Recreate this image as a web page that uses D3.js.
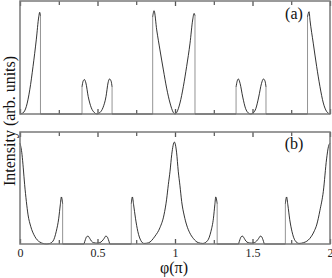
<!DOCTYPE html>
<html>
<head>
<meta charset="utf-8">
<script src="https://cdn.jsdelivr.net/npm/d3@7"></script>
<style>
  body { margin: 0; background: #fff; }
  text { font-family: "Liberation Serif", "Times New Roman", serif; }
</style>
</head>
<body>
<div id="chart"></div>
<script>
/* DATA (phi in units of pi, intensity in arb. units) */
// panel (a): pieces of the curve, joined by vertical drops
const segA = [
  [[0,0],[0.019,0.009],[0.041,0.067],[0.063,0.214],[0.084,0.42],[0.105,0.656],[0.121,0.86],[0.127,0.9],[0.132,0.87]],
  [[0.132,0],[0.40,0]],
  [[0.40,0.24],[0.407,0.29],[0.415,0.305],[0.425,0.275],[0.44,0.155],[0.46,0.055],[0.48,0.012],[0.497,0],
   [0.515,0.012],[0.535,0.055],[0.555,0.155],[0.568,0.275],[0.577,0.31],[0.588,0.29],[0.594,0.24]],
  [[0.594,0],[0.856,0]],
  [[0.856,0.86],[0.865,0.914],[0.882,0.744],[0.903,0.567],[0.925,0.39],[0.946,0.229],[0.968,0.097],[0.989,0.014],[1.0,0],
   [1.011,0.014],[1.032,0.097],[1.054,0.244],[1.075,0.42],[1.097,0.627],[1.114,0.832],[1.123,0.89],[1.129,0.87]],
  [[1.129,0],[1.394,0]],
  [[1.394,0.24],[1.401,0.29],[1.409,0.31],[1.42,0.27],[1.437,0.15],[1.455,0.05],[1.472,0.01],[1.488,0],
   [1.505,0.01],[1.522,0.05],[1.54,0.15],[1.558,0.27],[1.57,0.31],[1.581,0.29],[1.587,0.24]],
  [[1.587,0],[1.855,0]],
  [[1.855,0.86],[1.865,0.905],[1.871,0.83],[1.892,0.627],[1.914,0.42],[1.935,0.244],[1.957,0.097],[1.978,0.023],[2.0,0]]
];

// panel (b)
const segB = [
  [[0,0.90],[0.013,0.80],[0.021,0.68],[0.03,0.53],[0.041,0.38],[0.052,0.26],[0.069,0.158],[0.095,0.069],[0.127,0.018],
   [0.17,0.0],[0.19,0.004],[0.213,0.026],[0.234,0.113],[0.25,0.23],[0.26,0.35],[0.267,0.42],[0.275,0.36]],
  [[0.275,0],[0.413,0]],
  [[0.413,0],[0.422,0.04],[0.43,0.065],[0.439,0.07],[0.45,0.05],[0.46,0.027],[0.475,0.012],[0.496,0.008],
   [0.515,0.012],[0.53,0.027],[0.543,0.05],[0.553,0.07],[0.562,0.065],[0.57,0.04],[0.579,0]],
  [[0.579,0],[0.718,0]],
  [[0.718,0.36],[0.725,0.42],[0.733,0.35],[0.745,0.23],[0.76,0.113],[0.78,0.03],[0.80,0.005],[0.828,0.01],
   [0.871,0.07],[0.903,0.146],[0.929,0.26],[0.946,0.40],[0.957,0.53],[0.968,0.65],[0.979,0.80],[0.996,0.91],
   [1.01,0.82],[1.021,0.65],[1.032,0.52],[1.043,0.38],[1.06,0.25],[1.075,0.17],[1.095,0.10],[1.118,0.05],
   [1.15,0.012],[1.18,0.005],[1.21,0.03],[1.232,0.113],[1.248,0.23],[1.257,0.35],[1.263,0.42],[1.272,0.36]],
  [[1.272,0],[1.41,0]],
  [[1.41,0],[1.419,0.04],[1.427,0.065],[1.436,0.07],[1.447,0.05],[1.457,0.027],[1.472,0.012],[1.493,0.008],
   [1.512,0.012],[1.527,0.027],[1.54,0.05],[1.55,0.07],[1.559,0.065],[1.567,0.04],[1.576,0]],
  [[1.576,0],[1.712,0]],
  [[1.712,0.36],[1.72,0.42],[1.728,0.35],[1.74,0.22],[1.755,0.11],[1.775,0.03],[1.80,0.005],[1.83,0.012],
   [1.87,0.05],[1.90,0.12],[1.914,0.17],[1.935,0.30],[1.957,0.47],[1.978,0.76],[1.99,0.87],[2.0,0.90]]
];

const majorTicks = [0, 0.5, 1, 1.5, 2];
const minorTicks = [0.25, 0.75, 1.25, 1.75];
const panelLabels = ["(a)", "(b)"];

/* LAYOUT */
const width = 332, height = 278;
const left = 20, right = 330;
const panels = [
  { top: 1, bottom: 114, segs: segA, label: panelLabels[0], labelY: 19 },
  { top: 132, bottom: 244, segs: segB, label: panelLabels[1], labelY: 149 }
];

const svg = d3.select("#chart")
  .append("svg")
  .attr("width", width)
  .attr("height", height)
  .style("background-color", "#ffffff");

const xScale = d3.scaleLinear()
  .domain([0, 2])
  .range([left, right]);

panels.forEach((p, i) => {
  const yScale = d3.scaleLinear()
    .domain([0, 1])
    .range([p.bottom, p.top]);

  const line = d3.line()
    .x(d => xScale(d[0]))
    .y(d => yScale(d[1]))
    .curve(d3.curveMonotoneX);

  // jumps between pieces (drawn lighter, like the original)
  const jumps = d3.pairs(p.segs).map(([a, b]) => [a[a.length - 1], b[0]]);
  svg.append("g")
    .selectAll("path")
    .data(jumps)
    .join("path")
    .attr("d", d3.line().x(d => xScale(d[0])).y(d => yScale(d[1])))
    .attr("fill", "none")
    .attr("stroke", "#888")
    .attr("stroke-width", 0.9);

  // smooth pieces
  svg.append("g")
    .selectAll("path")
    .data(p.segs)
    .join("path")
    .attr("d", line)
    .attr("fill", "none")
    .attr("stroke", "#000")
    .attr("stroke-width", 0.8);

  // ticks inside, top and bottom
  [[d3.axisBottom, p.bottom], [d3.axisTop, p.top]].forEach(([axis, y]) => {
    svg.append("g")
      .attr("transform", `translate(0,${y})`)
      .call(axis(xScale).tickValues(minorTicks).tickSize(-4).tickFormat(""))
      .call(g => g.select(".domain").remove())
      .selectAll("line").attr("stroke", "#333");
    svg.append("g")
      .attr("transform", `translate(0,${y})`)
      .call(axis(xScale).tickValues(majorTicks).tickSize(-5).tickFormat(""))
      .call(g => g.select(".domain").remove())
      .selectAll("line").attr("stroke", "#555").attr("stroke-width", 1.3);
  });

  // frame
  svg.append("rect")
    .attr("x", left)
    .attr("y", p.top)
    .attr("width", right - left)
    .attr("height", p.bottom - p.top)
    .attr("fill", "none")
    .attr("stroke", "#7a7a7a")
    .attr("stroke-width", 1.5);

  svg.append("text")
    .attr("x", 294)
    .attr("y", p.labelY)
    .attr("text-anchor", "middle")
    .style("font-size", "16px")
    .attr("fill", "#111")
    .text(p.label);
});

// X tick labels under panel (b)
svg.append("g")
  .attr("transform", `translate(0,${panels[1].bottom})`)
  .call(d3.axisBottom(xScale).tickValues(majorTicks).tickSize(0).tickPadding(4).tickFormat(d3.format("")))
  .call(g => g.select(".domain").remove())
  .selectAll("text")
  .style("font-size", "12px")
  .style("font-family", "'Liberation Serif', serif")
  .attr("fill", "#222");

// axis titles
svg.append("text")
  .attr("x", 174)
  .attr("y", 273)
  .attr("text-anchor", "middle")
  .style("font-size", "16px")
  .attr("fill", "#111")
  .text("φ(π)");

svg.append("text")
  .attr("transform", "translate(15,121) rotate(-90)")
  .attr("text-anchor", "middle")
  .style("font-size", "16px")
  .attr("fill", "#111")
  .text("Intensity (arb. units)");
</script>
</body>
</html>
